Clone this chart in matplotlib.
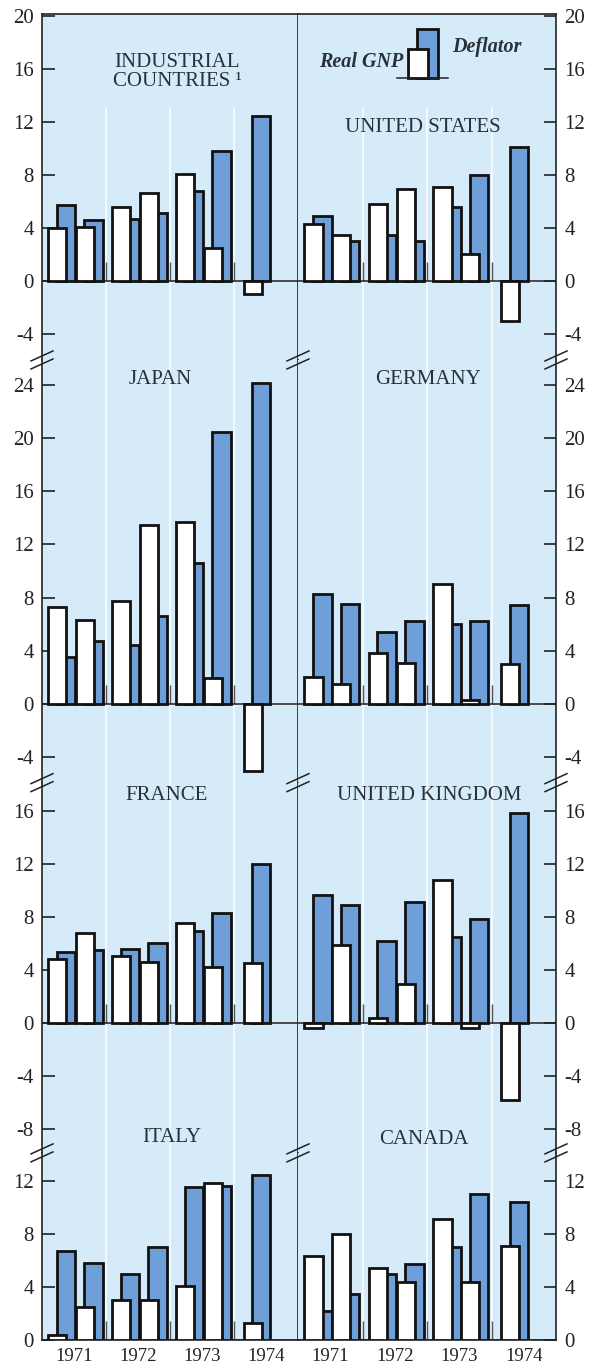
import matplotlib.pyplot as plt
from matplotlib.patches import Rectangle
from matplotlib.lines import Line2D

plt.rcParams["font.family"] = ["Liberation Serif", "DejaVu Serif"]
plt.rcParams["axes.unicode_minus"] = False

# %% data (per cent changes, half-yearly, 1971 H1 ... 1974 H1)
years = ["1971", "1972", "1973", "1974"]
periods = ["1971 I", "1971 II", "1972 I", "1972 II", "1973 I", "1973 II", "1974 I"]

titles = ["INDUSTRIAL\nCOUNTRIES \u00b9", "UNITED STATES",
          "JAPAN", "GERMANY",
          "FRANCE", "UNITED KINGDOM",
          "ITALY", "CANADA"]

gnp_industrial = [4.0, 4.1, 5.6, 6.6, 8.1, 2.5, -1.0]
defl_industrial = [5.7, 4.6, 4.7, 5.1, 6.8, 9.8, 12.4]
gnp_us = [4.3, 3.5, 5.8, 6.9, 7.1, 2.0, -3.0]
defl_us = [4.9, 3.0, 3.5, 3.0, 5.6, 8.0, 10.1]
gnp_japan = [7.3, 6.3, 7.7, 13.5, 13.7, 1.9, -5.1]
defl_japan = [3.5, 4.7, 4.4, 6.6, 10.6, 20.5, 24.2]
gnp_germany = [2.0, 1.5, 3.8, 3.1, 9.0, 0.3, 3.0]
defl_germany = [8.3, 7.5, 5.4, 6.2, 6.0, 6.2, 7.4]
gnp_france = [4.8, 6.8, 5.0, 4.6, 7.5, 4.2, 4.5]
defl_france = [5.3, 5.5, 5.6, 6.0, 6.9, 8.3, 12.0]
gnp_uk = [-0.4, 5.9, 0.4, 2.9, 10.8, -0.4, -5.8]
defl_uk = [9.6, 8.9, 6.2, 9.1, 6.5, 7.8, 15.8]
gnp_italy = [0.4, 2.5, 3.0, 3.0, 4.1, 11.8, 1.3]
defl_italy = [6.7, 5.8, 5.0, 7.0, 11.5, 11.6, 12.4]
gnp_canada = [6.3, 8.0, 5.4, 4.4, 9.1, 4.4, 7.1]
defl_canada = [2.2, 3.5, 5.0, 5.7, 7.0, 11.0, 10.4]

gnp = [gnp_industrial, gnp_us, gnp_japan, gnp_germany,
       gnp_france, gnp_uk, gnp_italy, gnp_canada]
defl = [defl_industrial, defl_us, defl_japan, defl_germany,
        defl_france, defl_uk, defl_italy, defl_canada]

row_ticks = [[-4, 0, 4, 8, 12, 16, 20],
             [-4, 0, 4, 8, 12, 16, 20, 24],
             [-8, -4, 0, 4, 8, 12, 16],
             [0, 4, 8, 12]]
row_ylims = [(-5.95, 20.12), (-5.95, 25.9), (-9.8, 18.1), (0, 14.1)]

# %% style
BG = "#d6ebfa"
BLUE = "#6e9fd8"
TXT = "#28313b"
W, H = 591, 1365

def fx(x):
    return x / W

def fy(y):
    return 1 - y / H

fig = plt.figure(figsize=(W / 100, H / 100), dpi=100)
fig.patch.set_facecolor("white")

top_px, bottom_px = 14, 1340
cols_px = [(42, 298), (298, 556)]
spans = [hi - lo for lo, hi in row_ylims]
unit = (bottom_px - top_px) / sum(spans)
row_edges = [top_px]
for s in spans:
    row_edges.append(row_edges[-1] + s * unit)

# bar positions inside each year
xs_white = []
for k in range(len(periods)):
    yr, half = divmod(k, 2)
    x = yr + 0.10 + 0.43 * half
    if yr == 3:
        x += 0.05
    xs_white.append(x)
xs_blue = [x + 0.13 for x in xs_white]

axes = []
for r in range(4):
    for c in range(2):
        i = 2 * r + c
        x0, x1 = cols_px[c]
        y0, y1 = row_edges[r], row_edges[r + 1]
        ax = fig.add_axes([fx(x0), fy(y1), (x1 - x0) / W, (y1 - y0) / H])
        ax.set_facecolor(BG)
        ax.set_xlim(0, 4)
        ax.set_ylim(*row_ylims[r])

        for sp in ax.spines.values():
            sp.set_linewidth(1.2)
            sp.set_color("#222222")
        ax.spines["top"].set_visible(r == 0)
        ax.spines["bottom"].set_visible(r == 3)
        if c == 1:
            ax.spines["left"].set_visible(False)

        # year separators
        ymax = 1.0
        if r == 0:
            ymax = (13 - row_ylims[0][0]) / spans[0]
        for xb in [1, 2, 3]:
            ax.axvline(xb, ymax=ymax, color="white", lw=1.3, alpha=0.8, zorder=0.5)
        ax.vlines([1, 2, 3], 0, 1.4, color="#555555", lw=1.0, zorder=1.5)
        ax.axhline(0, color="#222222", lw=1.1, zorder=1.6)

        ax.bar(xs_blue, defl[i], width=0.29, align="edge", color=BLUE,
               edgecolor="#111111", linewidth=2.0, zorder=2)
        ax.bar(xs_white, gnp[i], width=0.28, align="edge", color="white",
               edgecolor="#111111", linewidth=2.0, zorder=3)

        ax.set_yticks(row_ticks[r])
        if c == 0:
            ax.yaxis.tick_left()
        else:
            ax.yaxis.tick_right()
        ax.tick_params(axis="y", direction="in", length=9, width=1.2,
                       labelsize=15, pad=6, colors="#222222")
        if r == 3:
            ax.set_xticks([0.5, 1.5, 2.5, 3.5], years)
            ax.tick_params(axis="x", length=0, labelsize=13.5, pad=6,
                           colors="#222222")
        else:
            ax.set_xticks([])
        axes.append(ax)

# panel titles (centre x, centre y in pixels)
title_pos = [(177, 72), (423, 128), (160, 380), (428, 380),
             (167, 795), (429, 795), (172, 1137), (424, 1140)]
for t, (px, py) in zip(titles, title_pos):
    fig.text(fx(px), fy(py), t, ha="center", va="center", fontsize=15,
             color=TXT, linespacing=0.95)

# legend glyph in the United States panel
fig.add_artist(Rectangle((fx(417), fy(78)), 21 / W, 49 / H, facecolor=BLUE,
                         edgecolor="#111111", lw=2.0, transform=fig.transFigure))
fig.add_artist(Rectangle((fx(408), fy(78)), 20 / W, 29 / H, facecolor="white",
                         edgecolor="#111111", lw=2.0, transform=fig.transFigure))
fig.add_artist(Line2D([fx(397), fx(448)], [fy(78), fy(78)], color="#222222",
                      lw=1.1, transform=fig.transFigure))
fig.text(fx(403), fy(62), "Real GNP", ha="right", va="center", fontsize=14.5,
         style="italic", weight="bold", color=TXT)
fig.text(fx(452), fy(47), "Deflator", ha="left", va="center", fontsize=14.5,
         style="italic", weight="bold", color=TXT)

# axis break marks
for yb in row_edges[1:4]:
    for xb in [42, 298, 556]:
        for d in (-4, 4):
            fig.add_artist(Line2D([fx(xb - 11), fx(xb + 11)],
                                  [fy(yb + d + 5), fy(yb + d - 5)],
                                  color="#222222", lw=1.1,
                                  transform=fig.transFigure))

fig.savefig("out.png", dpi=100, facecolor="white")
